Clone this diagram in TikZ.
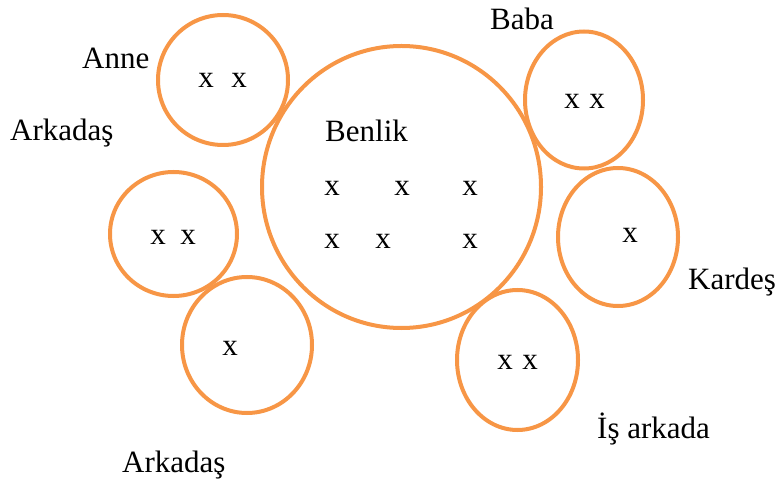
\documentclass[tikz,border=0pt]{standalone}
\usepackage{fontspec}
\setmainfont{Liberation Serif}
\usetikzlibrary{shapes.geometric}
\definecolor{ringorange}{HTML}{F79646}
\tikzset{
  ring/.style={ellipse, draw=ringorange, line width=4bp, inner sep=0pt},
  lbl/.style={anchor=base west, inner sep=0pt, font=\fontsize{31bp}{37bp}\selectfont},
  mk/.style={anchor=base, inner sep=0pt, font=\fontsize{31bp}{37bp}\selectfont},
}
\begin{document}
\begin{tikzpicture}[x=1bp,y=-1bp]
\useasboundingbox (0,0) rectangle (777,481);
% rings
\node[ring, minimum width=279bp, minimum height=282bp] (benlik) at (401.5,187) {};
\node[ring, minimum width=130bp, minimum height=130bp] (anne) at (223,80) {};
\node[ring, minimum width=118bp, minimum height=137bp] (baba) at (584,100) {};
\node[ring, minimum width=127bp, minimum height=124bp] (ark1) at (173.5,234) {};
\node[ring, minimum width=130bp, minimum height=136bp] (ark2) at (247,345) {};
\node[ring, minimum width=120bp, minimum height=138bp] (kardes) at (618,237) {};
\node[ring, minimum width=121bp, minimum height=140bp] (is) at (517.5,360) {};
% labels
\node[lbl] (tAnne) at (82,69) {Anne};
\node[lbl] (tArk1) at (10,141) {Arkadaş};
\node[lbl] (tBaba) at (490,30) {Baba};
\node[lbl] (tBenlik) at (325,142) {Benlik};
\node[lbl] (tKardes) at (688,290) {Kardeş};
\node[lbl] (tIs) at (597,438) {İş arkada};
\node[lbl] (tArk2) at (122,472) {Arkadaş};
% marks
\node[mk] (b1) at (332,196) {x};
\node[mk] (b2) at (402,196) {x};
\node[mk] (b3) at (470,196) {x};
\node[mk] (b4) at (332,249) {x};
\node[mk] (b5) at (383,249) {x};
\node[mk] (b6) at (470,249) {x};
\node[mk] (a1) at (206,88) {x};
\node[mk] (a2) at (239,88) {x};
\node[mk] (ba1) at (572,109) {x};
\node[mk] (ba2) at (597,109) {x};
\node[mk] (l1) at (158,245) {x};
\node[mk] (l2) at (188,245) {x};
\node[mk] (bl1) at (230,355) {x};
\node[mk] (k1) at (630,243) {x};
\node[mk] (i1) at (505,369) {x};
\node[mk] (i2) at (530,369) {x};
\end{tikzpicture}
\end{document}
